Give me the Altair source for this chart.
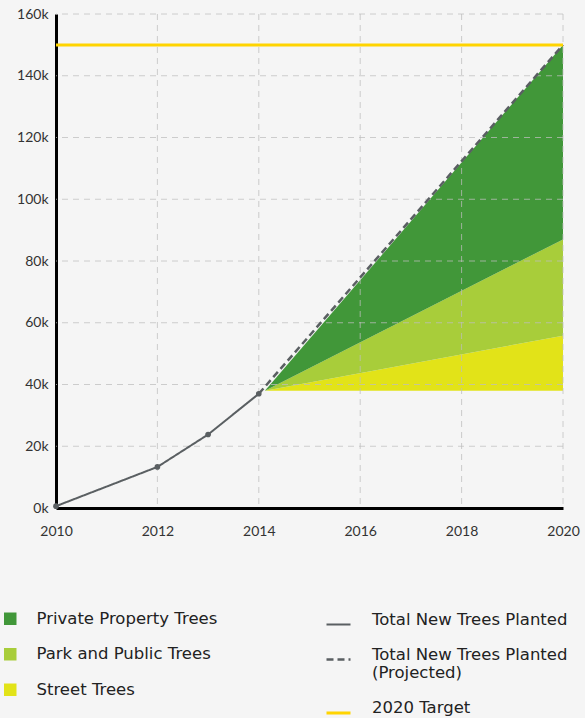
import altair as alt
import pandas as pd

# ---- data ----
total_years = [2010, 2012, 2013, 2014]
total_values = [600, 13300, 23800, 37000]

projected_years = [2014, 2020]
projected_values = [37000, 150000]

target_years = [2010, 2020]
target_values = [150000, 150000]

area_years = [2014.12, 2020]
area_base = [38000, 38000]
street_top = [38000, 55800]
park_top = [38000, 87000]
private_top = [38000, 150000]

categories = ["Private Property Trees", "Park and Public Trees", "Street Trees"]
cat_colors = ["#419739", "#A8CD3A", "#E2E318"]

series = ["Total New Trees Planted", "Total New Trees Planted (Projected)", "2020 Target"]
series_colors = ["#5a5f62", "#5a5f62", "#FFD400"]
series_dash = [[1, 0], [7, 4], [1, 0]]
series_width = [2, 3, 6]

x_ticks = [2010, 2012, 2014, 2016, 2018, 2020]
y_ticks = [0, 20000, 40000, 60000, 80000, 100000, 120000, 140000, 160000]
x_grid = [2012, 2014, 2016, 2018, 2020]
y_grid = [20000, 40000, 60000, 80000, 100000, 120000, 140000, 160000]

# ---- tables ----
area_rows = []
for i, yr in enumerate(area_years):
    area_rows.append({"year": yr, "cat": "Street Trees", "top": street_top[i], "bottom": area_base[i]})
    area_rows.append({"year": yr, "cat": "Park and Public Trees", "top": park_top[i], "bottom": street_top[i]})
    area_rows.append({"year": yr, "cat": "Private Property Trees", "top": private_top[i], "bottom": park_top[i]})
area_df = pd.DataFrame(area_rows)

total_df = pd.DataFrame({"year": total_years, "value": total_values, "series": series[0]})
proj_df = pd.DataFrame({"year": projected_years, "value": projected_values, "series": series[1]})
target_df = pd.DataFrame({"year": target_years, "value": target_values, "series": series[2]})

xgrid_df = pd.DataFrame({"year": x_grid})
ygrid_df = pd.DataFrame({"value": y_grid})

x_scale = alt.Scale(domain=[2010, 2020], nice=False, zero=False)
y_scale = alt.Scale(domain=[0, 160000], nice=False)

x_axis = alt.Axis(values=x_ticks, format="d", title=None, labelPadding=16, labelFlush=False)
y_axis = alt.Axis(values=y_ticks, labelExpr="(datum.value/1000) + 'k'", title=None,
                  labelPadding=8, labelFlush=False)

fill_legend = alt.Legend(title=None, orient="none", legendX=-54, legendY=596.5, direction="vertical",
                         symbolType="square", symbolSize=156, symbolStrokeWidth=0,
                         labelOffset=18, rowPadding=18.5, padding=0, labelLimit=400)

stroke_legend = alt.Legend(title=None, orient="none", legendX=269, legendY=597.5, direction="vertical",
                           symbolType="stroke", symbolSize=576, labelOffset=20, rowPadding=17.5,
                           padding=0, labelLimit=400, labelBaseline="alphabetic",
                           labelExpr="datum.label == 'Total New Trees Planted (Projected)' ? "
                                     "['Total New Trees Planted', '(Projected)'] : datum.label")

stroke_enc = dict(
    stroke=alt.Stroke("series:N", scale=alt.Scale(domain=series, range=series_colors), legend=stroke_legend),
    strokeDash=alt.StrokeDash("series:N", scale=alt.Scale(domain=series, range=series_dash), legend=stroke_legend),
    strokeWidth=alt.StrokeWidth("series:N", scale=alt.Scale(domain=series, range=series_width), legend=stroke_legend),
)

areas = alt.Chart(area_df).mark_area(opacity=1).encode(
    x=alt.X("year:Q", scale=x_scale, axis=x_axis),
    y=alt.Y("top:Q", scale=y_scale, axis=y_axis),
    y2="bottom:Q",
    fill=alt.Fill("cat:N", scale=alt.Scale(domain=categories, range=cat_colors), legend=fill_legend),
)

grid_style = dict(color="#bdbdbd", opacity=0.75, strokeDash=[6, 5], strokeWidth=1)
hgrid = alt.Chart(ygrid_df).mark_rule(**grid_style).encode(y=alt.Y("value:Q", scale=y_scale))
vgrid = alt.Chart(xgrid_df).mark_rule(**grid_style).encode(x=alt.X("year:Q", scale=x_scale))

proj_line = alt.Chart(proj_df).mark_line().encode(
    x=alt.X("year:Q", scale=x_scale), y=alt.Y("value:Q", scale=y_scale), **stroke_enc)
total_line = alt.Chart(total_df).mark_line().encode(
    x=alt.X("year:Q", scale=x_scale), y=alt.Y("value:Q", scale=y_scale), **stroke_enc)
total_points = alt.Chart(total_df).mark_circle(size=32, opacity=1, color="#5a5f62").encode(
    x=alt.X("year:Q", scale=x_scale), y=alt.Y("value:Q", scale=y_scale))
target_line = alt.Chart(target_df).mark_line(strokeCap="butt").encode(
    x=alt.X("year:Q", scale=x_scale), y=alt.Y("value:Q", scale=y_scale), **stroke_enc)

chart = alt.layer(areas, hgrid, vgrid, proj_line, total_line, total_points, target_line).properties(
    width=507, height=494,
    padding={"left": 56, "top": 14, "right": 22, "bottom": 210},
    autosize="none",
    background="#f5f5f5",
).configure_view(stroke=None).configure_axis(
    domainColor="#000000", domainWidth=3, ticks=False, tickSize=0, grid=False,
    labelFont="Lato", labelFontSize=14, labelColor="#333333", zindex=1,
).configure_legend(
    labelFont="DejaVu Sans", labelFontSize=16.5, labelColor="#222222",
)

chart.save("out.html", embed_options={"renderer": "svg", "actions": False})
